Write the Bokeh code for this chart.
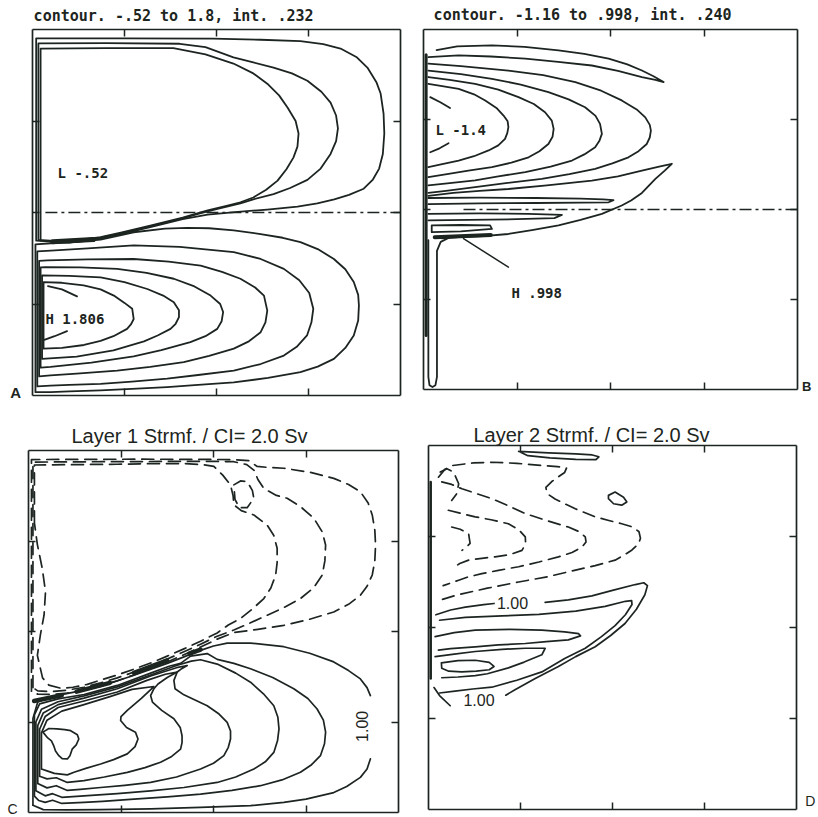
import math
from bokeh.plotting import figure
from bokeh.layouts import row, column
from bokeh.models import Label, LinearAxis, FixedTicker, Range1d
from bokeh.embed import file_html
from bokeh.resources import INLINE

# ---------------- data (x, y in percent of basin width / height) ----------------
TICKS = [25, 50, 75]
BOX = (0, 100)
EQUATOR_Y = 50
A_MIDLINE_X = [3.5, 100]
B_MIDLINE_X = [10.7, 100]

# Panel A : upper-layer streamfunction, subpolar (negative) gyre
A_UPPER_1 = [(2.2, 42.3), (2.2, 94.8), (20, 94.9), (38.3, 94.9), (47, 93.2), (54.6, 90.7), (60, 88), (63.8, 85.2),
             (67, 82), (69.3, 78.7), (71.5, 75), (72.3, 71.6), (72, 68), (70.9, 65), (69, 61.8), (66.6, 58.7),
             (63.5, 56.2), (60, 54.1), (56.5, 52.8), (53, 51.9), (47.6, 50.6), (40.8, 48.6), (32, 46.4),
             (24, 44.5), (18.5, 43.3), (10, 42.2), (2.2, 42.3)]
A_UPPER_2 = [(1.6, 42.5), (1.6, 96.2), (20, 96.3), (40, 96.1), (47, 95.2), (54.6, 92.4), (60, 91), (65.5, 89.6),
             (70.5, 88), (74.7, 86), (78.5, 83), (81, 80), (82.5, 76.5), (83, 73), (82.5, 69.5), (81, 66),
             (78.3, 62), (74.7, 58.9), (70, 56.7), (65.5, 55), (60, 53.6), (56.5, 52.5), (50, 50.9), (45, 49.6),
             (40.8, 48.4), (32, 46.2), (24, 44.3), (18.5, 43.1), (10, 42), (1.6, 42.5)]
A_UPPER_3 = [(1.0, 42.3), (1.0, 97.6), (25, 97.6), (49, 97.5), (62, 97.2), (72.8, 96.8), (79, 96), (83.7, 94.8),
             (88, 92.5), (91, 89.6), (93.5, 85.5), (94.6, 82.5), (95.4, 77), (95.6, 71.6), (95.2, 66), (94.2, 62),
             (92.5, 59), (90, 56.5), (86, 54.8), (82, 53.6), (77.4, 52.5), (72, 51.6), (63.8, 50.8), (55, 50.1),
             (47.6, 49.4), (40.8, 48.2), (32, 46), (24, 44.1), (18.5, 42.9), (10, 41.8), (1.0, 42.3)]
# Panel A : subtropical (positive) gyre
A_LOWER_1 = [(0.8, 0.9), (0.8, 41.3), (5, 41.6), (12, 42), (18.5, 42.6), (27.5, 44.6), (36, 45.6), (42, 45.8),
             (48, 45.7), (54.7, 45.1), (62, 44.1), (68, 43.1), (72.8, 41.9), (77.5, 40), (81.9, 37.3), (85, 34.5),
             (87.3, 31), (88.5, 27.5), (88.7, 24.6), (88.5, 20.5), (87.3, 16.4), (85, 13), (81.9, 10), (77.5, 7.9),
             (72.8, 6.4), (64, 4.8), (54.7, 3.6), (45, 2.9), (36.6, 2.3), (27, 1.8), (18.5, 1.4), (10, 1.1),
             (4.9, 0.9), (0.8, 0.9)]
A_LOWER_2 = [(1.3, 2.5), (1.3, 39.4), (5, 39.6), (15, 40.2), (27.5, 41), (40, 40.6), (54.7, 39.2), (62, 37.3),
             (68.3, 34.6), (72.5, 31.5), (75.2, 28), (76.3, 23.7), (75.8, 20), (74.6, 16.4), (71.8, 13.3),
             (68.3, 10.9), (62, 8.6), (54.7, 6.8), (45, 5.6), (36.6, 4.6), (27, 3.8), (18.5, 3.2), (10, 2.9),
             (4.9, 2.7), (1.3, 2.5)]
A_LOWER_3 = [(1.8, 5.2), (1.8, 36.8), (4, 36.9), (15, 37.2), (27.5, 37.3), (37, 36.6), (45.7, 35.5), (51.5, 33.8),
             (56.5, 31.9), (60.5, 29.5), (62.9, 27.3), (63.8, 23.2), (63.3, 20), (62, 17.3), (58.8, 14.8),
             (54.7, 12.8), (48, 10.8), (41.1, 9.1), (32, 7.8), (23, 6.8), (12, 6), (4.9, 5.5), (1.8, 5.2)]
A_LOWER_4 = [(2.2, 7.6), (2.2, 35), (3.5, 35.1), (13, 35), (23, 34.6), (31, 33.5), (38.4, 31.9), (44, 29.8),
             (48.4, 27.3), (51, 25), (51.8, 22.8), (51.4, 20.3), (50.2, 18.2), (47, 16.2), (42.9, 14.6), (35, 12.4),
             (27.5, 10.7), (16, 9), (4.9, 7.8), (2.2, 7.6)]
A_LOWER_5 = [(2.6, 10.0), (2.6, 32.8), (10, 32.7), (18.5, 32.3), (25, 31), (31.2, 29.1), (35.5, 27.3), (38.4, 25.5),
             (39.8, 23.3), (39.8, 21.4), (38.9, 19.6), (37.5, 18.2), (34, 16.4), (30.3, 14.8), (22, 12.3),
             (12, 10.6), (2.6, 10.0)]
A_LOWER_6 = [(3.0, 12.8), (3.0, 31), (8, 30.8), (13.9, 30.1), (18.5, 29), (22.1, 27.3), (25, 25.3), (27.1, 23.7),
             (27.5, 20.9), (26.8, 19.5), (25.7, 18.2), (22, 16.2), (18.5, 14.9), (14, 13.8), (8, 13), (3.0, 12.8)]
A_LOWER_7A = [(4.2, 29.9), (8, 29), (12.1, 27.1)]
A_LOWER_7B = [(3.2, 15.2), (6, 16.2), (9.4, 17.6)]
A_FRONT_BLOB = [(5.5, 42.0), (16.5, 42.6)]

# Panel B : lower-layer streamfunction
B_TONGUE_TOP = [(3.5, 94.3), (9, 95.3), (18.3, 95.6), (27, 95.2), (36.1, 94.2), (43, 93.2), (49.5, 91.9),
                (54.5, 90.3), (58.4, 88.6), (61.5, 87), (64.2, 85.4), (62, 86), (58.4, 86.8), (52, 88.5), (45, 90),
                (36, 91), (27.2, 91.9), (18, 92.5), (9.4, 92.8), (1.3, 92.3)]
B_NEG_4 = [(1.3, 90.5), (10, 89.8), (22.7, 88.6), (32, 87.3), (40.6, 85.4), (47.5, 83), (53, 80.3), (57, 77.8),
           (59.3, 75.6), (60.5, 73.5), (60.8, 71.9), (60.5, 70), (59.7, 68.2), (57.5, 66.2), (54.8, 64.5),
           (50.5, 62.8), (45.9, 61.3), (39, 59.8), (31.6, 58.5), (22, 57.3), (13.8, 56.2), (6, 55.2), (1.3, 54.6)]
B_NEG_3 = [(1.3, 88.6), (10, 87.6), (18.3, 86.3), (26, 84.7), (33.4, 82.6), (38.8, 80.6), (43.2, 78.4), (46, 76),
           (47.2, 73.8), (47.7, 71), (47, 69), (45.9, 67.3), (43, 65.3), (39.7, 63.6), (34, 61.9), (27.2, 60.4),
           (20, 59.2), (13.8, 58.1), (7, 57.3), (1.3, 56.7)]
B_NEG_2 = [(1.3, 86.8), (7, 86), (13.8, 84.9), (20, 83.3), (25.4, 81.2), (29.5, 79.3), (32.5, 77), (34.3, 74.7),
           (34.8, 72.4), (34.5, 70.2), (33.4, 68.2), (31, 66.2), (28.1, 64.5), (23.5, 63), (18.3, 61.8), (12, 60.8),
           (6.7, 59.9), (1.3, 59)]
B_NEG_1 = [(1.3, 84.9), (5, 84.3), (9.4, 83.5), (13.5, 82), (16.5, 80.3), (19.5, 78.2), (21.4, 76.1), (22.5, 74.5),
           (22.7, 72.9), (22.4, 71.2), (21.8, 69.6), (20, 67.8), (17.4, 66.4), (13.5, 64.8), (9.4, 63.6), (5, 62.6),
           (1.3, 61.8)]
B_NEG_0A = [(1.8, 81.2), (4.5, 79.8), (7.1, 78.2)]
B_NEG_0B = [(1.8, 65.9), (4.3, 67), (6.7, 68.4)]
B_TONGUE_LOW = [(1.3, 53.8), (8, 54.6), (15, 55.2), (22.7, 55.7), (33, 56.7), (45, 58), (52, 59.2), (58.4, 60.8),
                (63, 61.9), (66.4, 62.7), (64.5, 60.8), (62, 58.5), (58.4, 54.6), (55.5, 52.5), (53, 51.1),
                (47.7, 48.8), (42, 47.1), (36.1, 45.6), (29, 44.3), (22.7, 43.2), (16, 42.6), (9.4, 42.3), (4.9, 42.0)]
B_POS_1 = [(1.3, 53.2), (15, 53.3), (30, 53.2), (42, 53), (48, 52.8), (50.8, 52.6), (49.5, 52), (42, 51.9),
           (30, 51.8), (15, 51.7), (1.3, 51.5)]
B_POS_2 = [(1.3, 48.8), (15, 48.9), (28, 48.8), (37, 48.5), (35, 47.6), (25, 47.3), (12, 47.1), (1.3, 47)]
B_POS_3 = [(2.2, 45.6), (10, 45.7), (17.8, 45.6), (18.3, 44.6), (10, 43.9), (2.2, 43.7), (2.2, 45.6)]
B_WBC = [(6.7, 42.1), (4.6, 41), (3.6, 38.5), (3.6, 3.5), (3.2, 1.2), (2.4, 0.7), (1.6, 1.2), (1.3, 3.5),
         (1.3, 41.5)]
B_WALL = [(0.7, 15), (0.7, 93)]
B_FRONT_BLOB = [(3.0, 42.3), (18.0, 42.9)]
B_LEADER = [(10.7, 41.9), (22.7, 34.0)]

# Panel C : layer 1 streamfunction (dashed = negative)
C_NEG_1 = [(1.6, 80), (1.6, 96), (12, 96.1), (24, 96.2), (35, 96.4), (42, 96.4), (47, 96.1), (50.1, 95.6),
           (52.5, 93.2), (54.6, 90.5), (55.3, 87.5), (55.5, 85), (57.5, 83.4), (60.9, 82.2), (64.5, 79.4),
           (66.3, 76.5), (67.2, 73), (67.2, 69), (66.8, 65.6), (65.5, 62), (63.6, 59.1), (60.5, 56.2), (57.3, 53.6),
           (54, 51.8), (51, 49.6), (46.5, 47.3), (42, 45.2), (37.5, 43.2), (33, 41.3), (28.5, 39.6), (24, 38),
           (19.5, 36.6), (15.9, 35.4), (12, 34.6), (8.8, 34.3), (5.5, 35.2), (3.8, 37.2), (2.4, 43.4), (3.2, 49),
           (4.2, 54.5), (4.6, 61), (3.7, 67.5), (2.4, 74), (1.6, 80)]
C_NEG_2 = [(1.2, 34.5), (1.2, 96.8), (20, 96.9), (40, 97.0), (50, 97.0), (55.5, 96.9), (59, 96.1), (61, 94.5),
           (62, 92), (63.6, 89.5), (67, 87.6), (69.9, 86.8), (73.5, 84.5), (77.1, 81.3), (79.4, 77.5), (80.3, 73.9),
           (80.1, 69.5), (79.4, 65.6), (77, 62), (73.5, 59.1), (69, 56.6), (64.5, 54.5), (60, 52.4), (55.5, 50.4),
           (51, 48.7), (46.5, 46.5), (42, 44.4), (37.5, 42.4), (33, 40.5), (28.5, 38.8), (24, 37.2), (19.5, 35.8),
           (15, 34.6), (10.5, 33.8), (6, 33.4), (2.5, 33.6), (1.2, 34.5)]
C_NEG_3 = [(0.8, 33.5), (0.8, 97.5), (30, 97.6), (55, 97.5), (59.5, 97.2), (61.8, 95.6), (65, 95.3), (69, 95.1),
           (76, 94), (82.5, 92.3), (86.5, 90.6), (89.7, 88.6), (91.8, 85.5), (92.9, 82.2), (93.6, 78), (93.8, 73.9),
           (93.6, 69.5), (92.9, 65.6), (91.5, 62.5), (89.7, 60), (86.5, 57.5), (82.5, 55.4), (76, 53.4), (69, 51.7),
           (62, 50.6), (55.5, 49.7), (51, 47.9), (46.5, 45.7), (42, 43.6), (37.5, 41.6), (33, 39.7), (28.5, 38),
           (24, 36.4), (19.5, 35), (15, 33.8), (10.5, 33), (6, 32.6), (2.5, 32.7), (0.8, 33.5)]
C_EDDY = [(55.5, 90.5), (57.3, 91.6), (59.1, 91.4), (60.5, 89), (60.9, 86.8), (59.1, 84.2), (57, 84.2), (55.8, 86.5),
          (55.5, 90.5)]
# solid = positive
C_POS_1A = [(1.2, 2), (1.2, 26), (2.5, 30.5), (6, 32), (12, 33.2), (19.5, 34.8), (28.5, 37.9), (37.5, 41.2), (42, 43),
            (46.5, 44.8), (50, 46), (53.7, 46.8), (60, 46.8), (69, 45.8), (76, 44), (82.5, 41.6), (86.5, 39.2),
            (89.7, 36.9), (91.5, 34.5), (92.4, 32.3)]
C_POS_1B = [(92.4, 14.8), (91.5, 12), (89.7, 9.7), (86, 7.2), (82.5, 5.5), (75, 3.7), (69, 2.8), (60, 1.9),
            (46.5, 1.4), (33, 1.0), (19.5, 0.8), (10.5, 0.7), (4, 0.8), (1.2, 2)]
C_POS_2 = [(1.6, 4.5), (1.6, 27), (3, 30), (8, 31.4), (15, 32.6), (24, 35.1), (33, 38.5), (38, 40.4), (41.1, 41.2),
           (43.8, 43.2), (48.3, 43.9), (51, 42.3), (55.5, 41.2), (60, 39.7), (66, 37.3), (71.7, 34.2), (75.5, 31.5),
           (78, 28.6), (79.7, 25.5), (80.3, 22.2), (80, 19), (78.9, 15.7), (76.5, 13.2), (73.5, 11.1), (68.5, 9),
           (62.7, 7.4), (55, 6.1), (46.5, 5.1), (37.5, 4.3), (28.5, 3.7), (20, 3.1), (15, 2.8), (9, 2.5),
           (6.5, 3.4), (4.5, 2.8), (2.8, 3.3), (1.6, 4.5)]
C_POS_3 = [(2.0, 6), (2.0, 25), (3.5, 28.5), (8, 30.6), (15, 32.2), (24, 34.7), (33, 38), (40, 40.6), (44, 41.8),
           (46.5, 42.2), (51, 41), (56, 38.5), (60, 36), (63.5, 32.8), (66.3, 29.5), (67.4, 26.3), (67.7, 23.1),
           (67.3, 19.8), (66.3, 16.6), (64, 14), (60.9, 12), (56, 9.8), (51, 8.3), (42, 6.9), (33, 6), (24, 5.2),
           (15, 4.6), (9, 4.2), (6.5, 5.2), (4.5, 4.6), (2.0, 6)]
C_POS_4 = [(2.5, 8), (2.5, 24), (4, 27.5), (8, 29.8), (15, 31.6), (24, 34.2), (33, 37.7), (40, 40), (42.9, 40.6),
           (41.5, 39.8), (40.2, 38.8), (39.3, 36.5), (39.6, 34.2), (42, 32.5), (48.3, 29.5), (51.5, 27.2),
           (53.7, 24.9), (54.6, 22.5), (54.6, 20.3), (54, 18), (52.8, 15.7), (50, 13.6), (46.5, 12), (40, 9.8),
           (33, 8.3), (26, 7.5), (19.5, 6.9), (14, 6.4), (10.5, 6.1), (7.5, 7.4), (5, 6.8), (2.5, 8)]
C_POS_5 = [(3.0, 10), (3.0, 23), (4.5, 26.5), (8, 29), (15, 30.8), (24, 33.3), (32, 36.5), (37, 38.2), (40.2, 38.8),
           (37.5, 37.3), (35, 35.5), (33.9, 34.2), (33, 32.3), (33.5, 30.5), (36, 28.2), (39.3, 25.9), (41, 23.5),
           (41.5, 21.2), (41.5, 19.3), (41.1, 17.5), (38.7, 15.5), (35.7, 13.9), (31.5, 12.4), (26.7, 11.1),
           (20.5, 9.8), (15, 8.8), (10.5, 8.3), (7.5, 9.6), (5, 9.3), (3.0, 10)]
C_POS_6 = [(3.5, 12), (3.5, 22), (5, 25.5), (9, 28), (15, 29.8), (22, 32), (28, 34), (33.9, 34.8), (30.5, 31.5),
           (26.7, 28.2), (25, 26.5), (24.9, 25.4), (26.5, 23.5), (28.9, 22.2), (29.6, 20.3), (28.8, 18.2),
           (26.7, 16.2), (23, 14.6), (19.5, 13.4), (15.5, 12.2), (12.3, 11.1), (10.5, 10.4), (7, 10.8), (5, 11.5),
           (3.5, 12)]
C_POS_7 = [(3.9, 22.2), (5.5, 23.2), (7.7, 23.1), (9.8, 22.9), (11.4, 22.6), (13.2, 21.5), (13.6, 20.3),
           (12.9, 18.7), (11.8, 17.5), (11.2, 15.7), (10.5, 14.8), (9.1, 14.9), (8.2, 15.7), (7.3, 17), (6.8, 18.5),
           (6.2, 19.8), (5.2, 20.6), (3.9, 22.2)]
C_FRONT_BLOBS = [[(1.5, 30.8), (9, 32.4)], [(13, 33.4), (22, 35.8)], [(28.5, 38.6), (37.5, 42.0)],
                 [(43.5, 43.9), (46.5, 45.0)]]

# Panel D : layer 2 streamfunction
D_TOP_TONGUE = [(24.5, 98.4), (32.6, 98), (40, 97.7), (44.5, 97.4), (46.3, 96.9), (45.5, 96.1), (40, 96.2),
                (33, 96.6), (27, 97.2), (24.5, 98.4)]
D_OVAL = [(48.9, 86.3), (50.7, 87.2), (53, 85.8), (53.9, 84.5), (52.5, 83.6), (50.3, 84), (48.9, 85.4), (48.9, 86.3)]
D_NEG_1 = [(2.7, 91.3), (4.5, 93.5), (6.5, 94.5), (12, 95.2), (17.2, 95.4), (24, 95.1), (30.8, 94.5), (35, 94.2),
           (37.5, 93.8), (37, 92.6), (35, 91.2), (33.5, 90.1), (31.9, 88.5), (32.2, 86.8), (34.4, 85.3), (37, 84),
           (39.9, 82.6), (45.3, 80.4), (49, 79.4), (52.5, 78.5), (55.5, 77.6), (57.2, 76.3), (57.6, 74.5),
           (57.1, 73), (55.3, 71.3), (53, 69.8), (50.7, 68.5), (45.3, 67), (38, 65.3), (32.6, 64), (24.5, 62.5),
           (16, 60.8), (8, 59), (3, 57.5)]
D_NEG_2 = [(3.6, 90), (6.3, 89.3), (9.1, 88.1), (13, 86.8), (17.2, 85.4), (22, 83.3), (26.3, 81.3), (32, 79.4),
           (38, 77.6), (41, 76.3), (42.6, 74.9), (42.8, 73.5), (41.7, 72.1), (39, 70.6), (35.3, 69.4), (30, 68),
           (24.5, 66.7), (19, 65.7), (14.5, 64.8), (10.5, 63.8), (8.2, 63), (4, 61.5)]
D_NEG_3 = [(5.4, 82.2), (9, 81.3), (12.7, 80.4), (17, 79.6), (21.7, 78.5), (24.6, 76.8), (26.3, 74.9), (26.4, 73),
           (25.4, 71.2), (22, 70), (18.1, 69.4), (14.5, 69), (10.9, 68.5), (8.5, 67.6), (7.2, 66.7)]
D_NEG_4 = [(6.3, 77.6), (8.6, 77), (10.9, 75.8), (11.3, 73.1), (10.2, 72), (9.1, 71.2)]
D_NEG_5 = [(3.2, 92.7), (5, 93.6), (6.8, 92.7), (8.2, 89.5), (7.7, 86.8), (6.3, 84.9)]
D_POS_1A = [(1.5, 33.5), (3, 31.3), (5.9, 28.5)]
D_POS_1B = [(21, 31.4), (23.5, 32.9), (29, 36), (35.3, 39.3), (40, 42), (45.3, 44.7), (49.5, 47.8), (53.4, 51.1),
            (56.5, 55), (58.8, 59), (59.5, 61.5), (58.5, 62.3), (56.2, 61.8), (50, 60.2), (44.4, 58.7), (38, 57.6),
            (31.7, 56.9)]
D_POS_1C = [(17.8, 56.6), (15, 56.3), (10, 55.6), (6, 54.8), (2, 53.5)]
D_POS_2 = [(3, 32.0), (7.2, 32.5), (12, 33.1), (17.2, 33.6), (24, 35.5), (30.8, 37.8), (37, 41.5), (42.6, 44.3),
           (47, 47.5), (50.7, 50.5), (53.5, 53.5), (55.3, 56.3), (55.2, 57.4), (53.5, 57.2), (48, 55.8), (40, 54.5),
           (30, 53.6), (20, 53.2), (10, 52.8), (3, 52)]
D_POS_3 = [(1.8, 47.5), (7, 48.6), (12.7, 49.3), (22, 49.5), (30.8, 49.3), (37, 48.8), (40.8, 48.3), (41.3, 47.7),
           (38, 46.6), (32, 46.1), (26.3, 45.6), (19, 45.2), (12.7, 44.7), (6, 44.2), (2.7, 43.8)]
D_POS_4 = [(1.8, 42), (7, 42.7), (12.7, 43.4), (20, 44), (26.3, 44.3), (31.7, 44.3), (30.8, 42.5), (26, 40.5),
           (21.7, 38.9), (16, 37.3), (12.7, 36.8), (8, 36.4), (3.6, 36.2)]
D_POS_5 = [(3.5, 40.3), (8, 40.9), (12.7, 41), (16.5, 40.4), (17.8, 39.3), (16.5, 38.4), (13, 38), (9, 37.8),
           (5.5, 38), (3.6, 38.8), (3.5, 40.3)]
D_WALL = [(0.6, 36), (0.6, 90)]

# ---------------- layout (page pixels; the page template has no body margin) ----------------
INK = "#1d2521"
MONO = "DejaVu Sans Mono"
SANS = "Liberation Sans"
DASH = "12 7"
DASHDOT = "12 4 3 4"


def panel(cx, cy, w, h, bx0, by0, bx1, by1):
    """Figure whose canvas spans page rect (cx, cy, w, h); the basin box lands on page rect bx0..bx1, by0..by1."""
    sx = (bx1 - bx0) / 100.0
    sy = (by1 - by0) / 100.0
    xr = Range1d((cx - bx0) / sx, (cx + w - bx0) / sx)
    yr = Range1d((by1 - (cy + h)) / sy, (by1 - cy) / sy)
    p = figure(width=w, height=h, x_range=xr, y_range=yr, output_backend="svg", toolbar_location=None,
               x_axis_location=None, y_axis_location=None,
               min_border_left=0, min_border_right=0, min_border_top=0, min_border_bottom=0)
    p.grid.visible = False
    p.outline_line_color = None
    p.background_fill_color = "white"
    p.border_fill_color = "white"
    for side, loc in (("left", BOX[0]), ("right", BOX[1]), ("below", BOX[0]), ("above", BOX[1])):
        ax = LinearAxis(ticker=FixedTicker(ticks=TICKS), fixed_location=loc, bounds=BOX,
                        major_tick_in=7, major_tick_out=0, minor_tick_in=0, minor_tick_out=0,
                        axis_line_color=INK, axis_line_width=1.7,
                        major_tick_line_color=INK, major_tick_line_width=1.5,
                        major_label_text_font_size="0px", major_label_standoff=0,
                        major_label_overrides={t: "" for t in TICKS})
        p.add_layout(ax, side)
    return p


def draw(p, pts, dash="solid", w=1.8):
    p.line([q[0] for q in pts], [q[1] for q in pts], line_color=INK, line_width=w,
           line_dash=dash, line_join="round", line_cap="round")


def text(p, x, y, s, font=MONO, size="15px", style="bold", align="left", angle=0.0):
    p.add_layout(Label(x=x, y=y, text=s, text_font=font, text_font_size=size, text_font_style=style,
                       text_color=INK, text_align=align, text_baseline="middle", angle=angle))


# ---- A ----
pA = panel(0, 0, 412, 412, 32, 29, 400, 395)
for c in (A_UPPER_1, A_UPPER_2, A_UPPER_3, A_LOWER_1, A_LOWER_2, A_LOWER_3, A_LOWER_4, A_LOWER_5, A_LOWER_6,
          A_LOWER_7A, A_LOWER_7B):
    draw(pA, c)
draw(pA, A_FRONT_BLOB, w=5)
pA.line(A_MIDLINE_X, [EQUATOR_Y, EQUATOR_Y], line_color=INK, line_width=1.6, line_dash=DASHDOT)
text(pA, 0.3, 103.8, "contour. -.52 to 1.8, int. .232")
text(pA, 6.8, 60.7, "L -.52", size="14px")
text(pA, 3.5, 21.0, "H 1.806", size="14px")
text(pA, -4.6, 0.8, "A", font=SANS, size="15px", align="center")

# ---- B ----
pB = panel(412, 0, 405, 412, 423, 29, 797, 389)
for c in (B_TONGUE_TOP, B_NEG_4, B_NEG_3, B_NEG_2, B_NEG_1, B_NEG_0A, B_NEG_0B, B_TONGUE_LOW, B_POS_1, B_POS_2,
          B_POS_3, B_WBC):
    draw(pB, c)
draw(pB, B_WALL, w=3)
draw(pB, B_FRONT_BLOB, w=4)
draw(pB, B_LEADER, w=1.5)
pB.line(B_MIDLINE_X, [EQUATOR_Y, EQUATOR_Y], line_color=INK, line_width=1.6, line_dash=DASHDOT)
text(pB, 2.7, 103.9, "contour. -1.16 to .998, int. .240")
text(pB, 3.2, 72.0, "L -1.4", size="14px")
text(pB, 23.5, 26.7, "H .998", size="14px")
text(pB, 101.2, 0.8, "B", font=SANS, size="13px")

# ---- C ----
pC = panel(0, 412, 412, 404, 28, 450, 398, 812)
for c in (C_NEG_1, C_NEG_2, C_NEG_3, C_EDDY):
    draw(pC, c, dash=DASH, w=1.7)
for c in (C_POS_1A, C_POS_1B, C_POS_2, C_POS_3, C_POS_4, C_POS_5, C_POS_6, C_POS_7):
    draw(pC, c, w=1.7)
for b in C_FRONT_BLOBS:
    draw(pC, b, w=4.5)
text(pC, 11.6, 103.9, "Layer 1 Strmf. / CI= 2.0 Sv", font=SANS, size="20px", style="normal")
text(pC, 90.0, 23.8, "1.00", font=SANS, size="16px", style="normal", align="center", angle=math.pi / 2)
text(pC, -4.3, 1.1, "C", font=SANS, size="14px", style="normal", align="center")

# ---- D ----
pD = panel(412, 412, 405, 404, 428, 445, 796, 809)
for c in (D_NEG_1, D_NEG_2, D_NEG_3, D_NEG_4, D_NEG_5):
    draw(pD, c, dash=DASH, w=1.7)
for c in (D_TOP_TONGUE, D_OVAL, D_POS_1A, D_POS_1B, D_POS_1C, D_POS_2, D_POS_3, D_POS_4, D_POS_5):
    draw(pD, c, w=1.7)
draw(pD, D_WALL, w=2.5)
text(pD, 12.2, 103.0, "Layer 2 Strmf. / CI= 2.0 Sv", font=SANS, size="20px", style="normal")
text(pD, 18.6, 56.7, "1.00", font=SANS, size="16px", style="normal")
text(pD, 9.5, 30.1, "1.00", font=SANS, size="16px", style="normal")
text(pD, 102.4, 2.2, "D", font=SANS, size="14px", style="normal")

layout = column(row(pA, pB), row(pC, pD))
open("out.html", "w").write(file_html(layout, INLINE))
